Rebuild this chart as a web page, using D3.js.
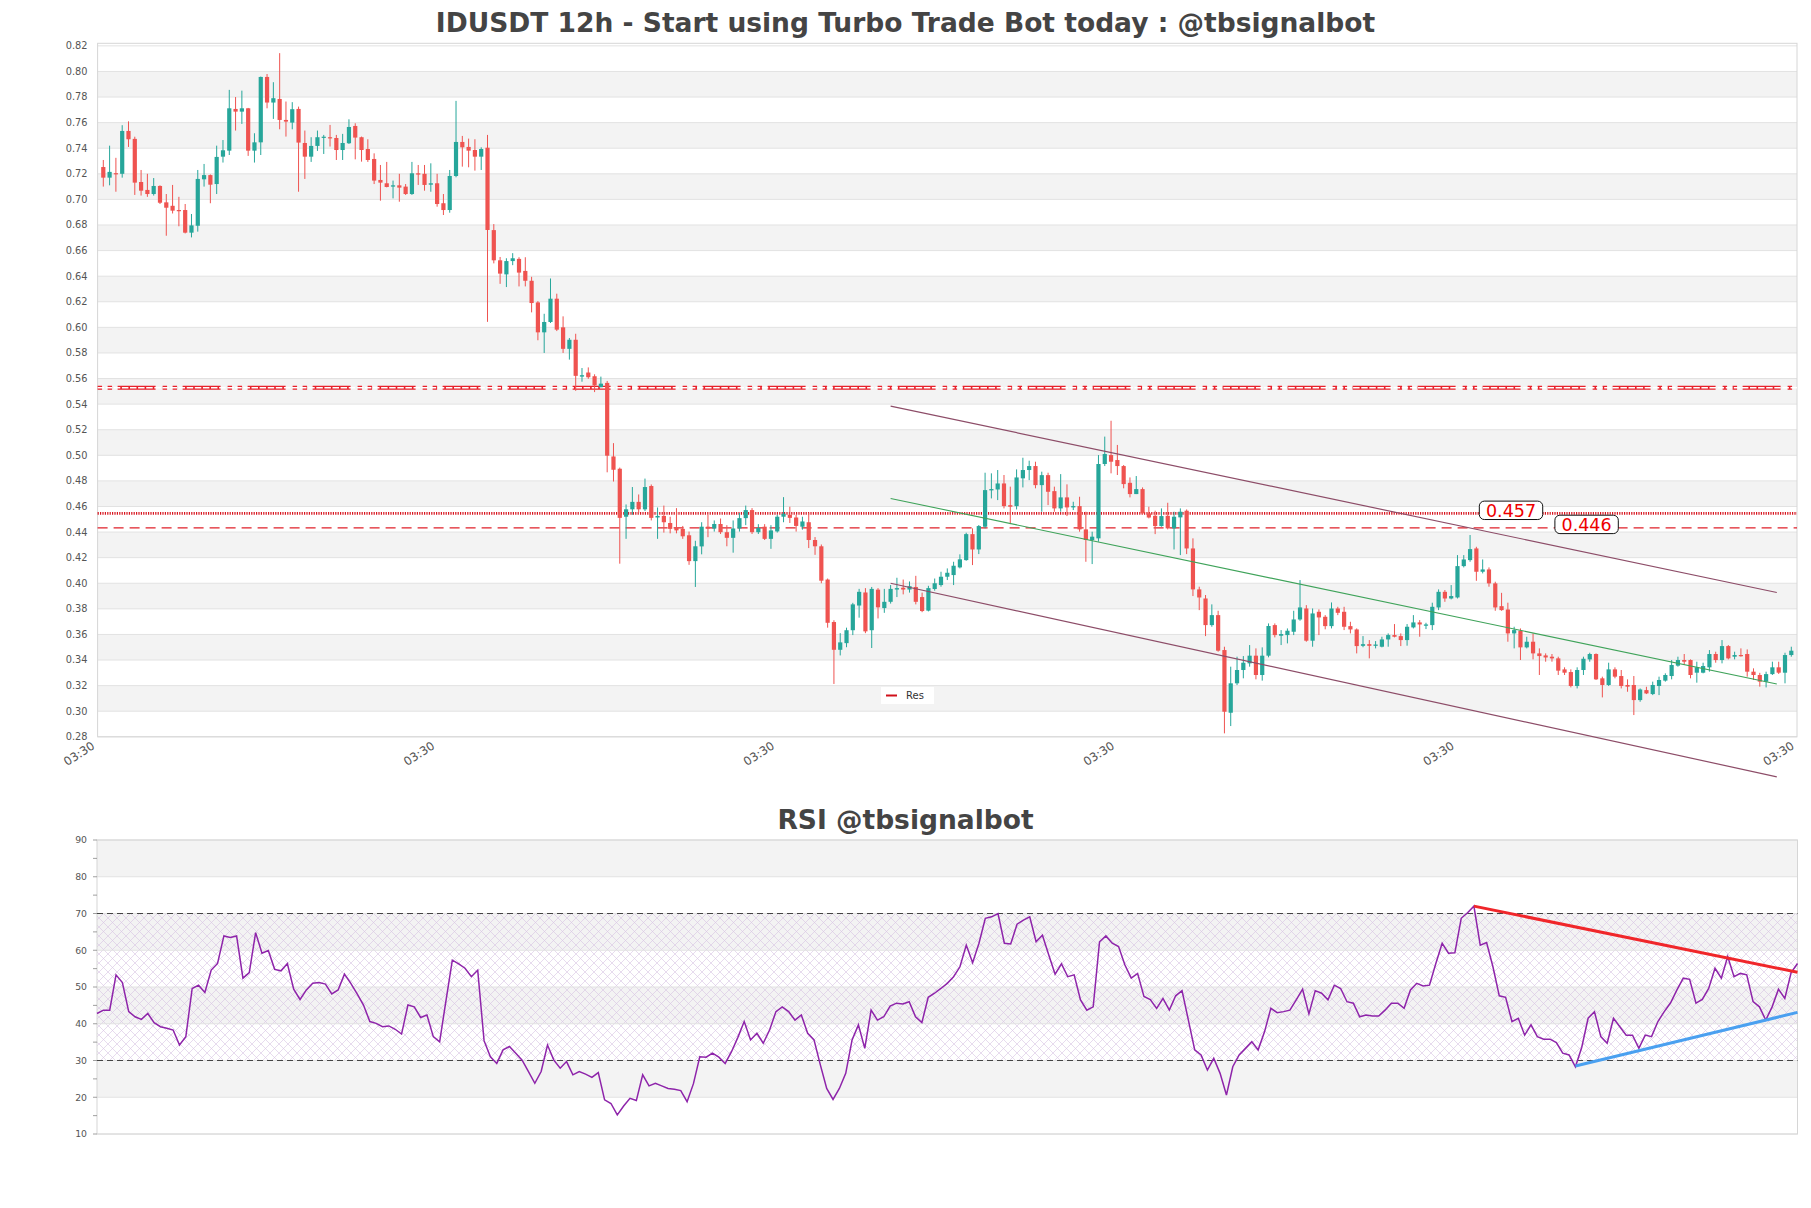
<!DOCTYPE html>
<html><head><meta charset="utf-8">
<script src="https://cdn.jsdelivr.net/npm/d3@7"></script>
<style>body{margin:0;background:#fff}svg{display:block}text{font-family:"DejaVu Sans",sans-serif}</style>
</head><body><svg id="c" width="1811" height="1208"></svg>
<script>
// ---------------- DATA ----------------
const open = [.7253,.717,.7205,.720,.7535,.7473,.7136,.7074,.7042,.7105,.6977,.695,.6917,.6917,.674,.6794,.7157,.719,.712,.7334,
.7381,.7707,.7686,.7712,.7381,.7446,.7957,.7757,.7785,.7621,.760,.7707,.7441,.7334,.7418,.7483,.7486,.748,.7386,.7439,
.7574,.7486,.7394,.7316,.7152,.7126,.710,.711,.710,.7042,.7204,.720,.7115,.7126,.697,.6917,.7183,.7449,.741,.7386,
.7334,.7404,.676,.6524,.6414,.6518,.6535,.6441,.6364,.6195,.5961,.6042,.6224,.600,.5832,.5903,.5615,.5647,.5618,.5532,
.5566,.4991,.4895,.452,.4578,.4636,.4578,.476,.4514,.4526,.4471,.4433,.4425,.4375,.4173,.4288,.4442,.4428,.4463,.4399,
.4355,.4428,.4509,.4572,.4399,.4442,.4347,.4405,.452,.4535,.4514,.4442,.4477,.4338,.4289,.4029,.3697,.348,.3532,.3633,
.3826,.3928,.3633,.395,.3806,.3855,.3951,.3965,.3951,.3971,.3892,.3786,.3955,.3986,.4051,.4064,.4124,.4181,.4384,.4264,
.4442,.4726,.4733,.478,.461,.4603,.482,.4885,.4916,.4767,.4845,.472,.4585,.4671,.4593,.4603,.4421,.4338,.4351,.4932,
.5002,.4963,.4916,.4785,.4697,.4736,.4546,.4527,.4447,.4527,.4429,.4515,.4567,.4272,.3952,.3881,.3673,.3751,.3478,.2988,
.3218,.3322,.3374,.3434,.3283,.3434,.3673,.359,.3595,.3621,.3717,.3803,.3551,.3777,.3738,.3665,.3803,.3777,.3665,.3639,
.3511,.3524,.3511,.3504,.3561,.3595,.3587,.3556,.3655,.3694,.3668,.3673,.3811,.3933,.3881,.3889,.4134,.4181,.4272,.409,
.4108,.3999,.3821,.3795,.3608,.3629,.3499,.3543,.3452,.3436,.3426,.3413,.3327,.3306,.3197,.3322,.3405,.3447,.3257,.3205,
.3327,.3275,.3205,.3205,.3087,.3165,.3134,.3197,.3239,.3275,.3356,.34,.34,.3301,.3301,.3343,.3447,.34,.3509,.3426,
.3439,.3447,.3309,.3283,.3231,.329,.3343,.3301,.3439];
const high = [.7308,.742,.7325,.758,.761,.749,.723,.720,.7167,.711,.7042,.7113,.702,.6964,.6886,.723,.7277,.7195,.742,.7464,
.7856,.780,.785,.7715,.7517,.796,.798,.7916,.8143,.7765,.776,.7725,.7538,.7486,.7538,.7504,.7582,.7504,.7512,.7626,
.7595,.7491,.747,.736,.7269,.7293,.7147,.720,.712,.7293,.7269,.7269,.7282,.720,.7042,.723,.777,.7496,.7475,.747,
.7407,.7504,.6807,.655,.654,.658,.6548,.6548,.6395,.6205,.6106,.6382,.6263,.6086,.5917,.595,.5682,.5687,.5633,.5615,
.5581,.5095,.4904,.4616,.4752,.4694,.4818,.4772,.4592,.4607,.452,.4587,.4448,.4404,.4332,.4477,.4535,.4491,.4506,.4454,
.4491,.4549,.4607,.4587,.4462,.4462,.4454,.4535,.4673,.4598,.4535,.452,.4549,.4361,.4303,.4037,.3711,.361,.3653,.3847,
.3956,.3962,.3971,.3962,.3956,.3986,.4043,.4029,.4014,.4058,.3927,.398,.4037,.409,.4116,.4168,.4226,.4395,.4429,.4455,
.4864,.4859,.4885,.4846,.4755,.489,.4981,.4958,.495,.4872,.4864,.4755,.4853,.4773,.4637,.4676,.4559,.4403,.5002,.5146,
.527,.5081,.4924,.4827,.4838,.4749,.4598,.4567,.4585,.4629,.4559,.4585,.4577,.4351,.3973,.3908,.3835,.3785,.3504,.3348,
.3426,.3431,.3517,.3491,.3499,.3686,.3686,.3634,.3647,.3785,.4025,.3829,.3803,.3796,.3751,.385,.3816,.3816,.3699,.3647,
.3587,.3556,.3548,.3582,.3608,.3681,.3608,.3681,.3751,.3712,.3691,.3848,.3952,.3947,.3986,.422,.422,.4377,.4285,.4186,
.4124,.4012,.3925,.3848,.366,.3647,.3582,.3608,.3491,.3452,.3447,.3426,.3343,.3327,.3343,.3426,.3457,.3452,.327,.3379,
.3343,.3322,.3249,.3275,.3178,.3191,.3231,.327,.3296,.34,.3426,.3447,.3405,.3387,.3379,.3478,.3465,.3556,.3517,.3465,
.3491,.3483,.3335,.33,.3309,.3387,.3387,.3457,.3504];
const low = [.710,.711,.706,.717,.741,.7035,.703,.702,.703,.6964,.6716,.689,.679,.6734,.6703,.6748,.710,.697,.7042,.7288,
.7347,.7538,.759,.734,.7288,.7347,.7712,.7629,.7548,.7491,.7548,.706,.716,.7293,.7379,.7355,.7413,.7308,.7308,.7433,
.7313,.7295,.7293,.712,.699,.7094,.7008,.6982,.7035,.7035,.7113,.7068,.706,.6943,.6878,.6896,.7173,.7256,.7251,.7225,
.723,.6043,.650,.634,.6315,.6486,.632,.632,.6117,.5899,.580,.6034,.5971,.580,.5748,.5504,.5575,.5598,.5494,.5532,
.4867,.4795,.4153,.4347,.4535,.4549,.4564,.4491,.4347,.4396,.439,.439,.4347,.4144,.3971,.4226,.436,.4404,.4385,.4289,
.4239,.4404,.4454,.4385,.4385,.4338,.4269,.4396,.4477,.4471,.4404,.4419,.4275,.4222,.40,.3653,.3213,.3436,.350,.3595,
.3731,.361,.3494,.3725,.3769,.3841,.3892,.3913,.3927,.3835,.3774,.378,.3942,.3973,.4025,.3986,.4116,.4176,.4142,.4228,
.4429,.4663,.465,.4585,.4462,.4577,.4749,.4806,.4742,.4559,.4611,.4559,.4559,.4525,.4572,.4403,.4168,.415,.4325,.4916,
.4859,.4846,.4742,.4671,.4697,.4541,.4507,.4384,.4442,.4421,.4264,.422,.4228,.39,.379,.3587,.366,.3465,.2827,.2884,
.3204,.3257,.3348,.3249,.3239,.3421,.3577,.3517,.353,.3595,.3707,.3543,.3504,.3595,.364,.3647,.3751,.3634,.3608,.3452,
.35,.3413,.3491,.3499,.3504,.3577,.3509,.3512,.3647,.3582,.3642,.3634,.379,.3855,.3874,.3881,.4124,.4168,.4019,.4077,
.3973,.3785,.3785,.3543,.3491,.34,.3491,.3405,.3283,.3387,.3387,.3283,.3283,.3186,.3178,.3283,.3387,.3244,.3108,.3197,
.3257,.3178,.3152,.297,.3074,.3134,.3126,.3126,.3231,.3249,.3348,.3361,.3257,.3223,.3296,.3309,.3379,.3374,.3405,.3405,
.3426,.327,.3244,.3192,.3186,.3283,.3291,.3218,.3426];
const close = [.717,.7215,.720,.7535,.747,.7131,.7068,.7042,.7105,.6974,.6935,.6912,.6912,.674,.6797,.716,.719,.7115,.7332,.7384,
.7712,.7686,.7712,.7381,.7446,.7957,.7757,.7791,.7621,.7608,.7705,.7444,.7334,.7418,.7486,.749,.7478,.7386,.7441,.7566,
.7483,.7386,.7308,.7147,.7131,.7097,.711,.7092,.7042,.7204,.7194,.7113,.7126,.6964,.6917,.7183,.7449,.7407,.7381,.7334,
.7394,.6761,.6524,.642,.6518,.654,.6428,.6364,.619,.5961,.6042,.6224,.5982,.5832,.5903,.5621,.5626,.561,.5546,.556,
.4997,.4887,.4511,.4578,.4636,.4578,.4752,.4511,.4526,.4477,.4425,.4413,.4367,.4173,.4289,.4442,.4428,.4463,.4399,.4355,
.4428,.4509,.4572,.4399,.4433,.4347,.4413,.452,.4543,.4511,.4448,.4483,.4338,.4289,.402,.3691,.348,.3538,.3633,.3835,
.3933,.3624,.3956,.3812,.3855,.3956,.3962,.3951,.3977,.3855,.3783,.3962,.40,.4051,.4082,.4137,.4187,.4384,.4264,.4447,
.4728,.4736,.478,.4603,.4598,.4827,.4885,.4916,.4767,.4845,.4715,.4585,.4671,.4593,.4603,.4421,.4338,.4364,.4932,.501,
.495,.4916,.4775,.4697,.4736,.4546,.4514,.4447,.4525,.4429,.452,.4559,.4272,.3952,.3889,.3673,.3751,.3473,.2996,.3218,
.3322,.3379,.3434,.3283,.3434,.3666,.3595,.3603,.3629,.3717,.3811,.3551,.3764,.3733,.3665,.3803,.3769,.366,.3639,.3509,
.3524,.3511,.3521,.3561,.3595,.3582,.3556,.366,.3694,.3678,.3678,.3816,.3933,.3881,.39,.4134,.4186,.4267,.409,.4108,
.3999,.3811,.379,.3608,.3634,.3499,.3543,.3452,.3431,.342,.3413,.3317,.3301,.3197,.3322,.341,.3447,.3249,.3205,.3327,
.327,.3197,.3192,.3087,.317,.3139,.3205,.3244,.3283,.3361,.34,.3387,.3283,.3343,.3353,.3447,.34,.3509,.3413,.3439,
.3431,.3309,.3283,.3231,.329,.3343,.3301,.3439,.3473];
const rsi = [42.8,43.7,43.7,53.3,51.2,43.3,41.9,41.2,42.8,40.3,39.2,38.8,38.3,34.2,36.5,49.6,50.5,48.5,54.6,56.4,
63.9,63.5,63.9,52.4,53.9,64.8,59.2,59.9,54.8,54.4,56.4,49.4,46.6,49.2,51,51.2,50.8,48.1,49.2,53.5,
51,48.1,45.1,40.6,40.1,39.2,39.4,38.5,37.2,45.1,44.6,41.7,42.4,36.5,35.1,46.3,57.3,56.3,55.1,52.8,
54.6,35.4,31,29.2,32.9,33.8,32,30.1,27,23.8,27,34.2,30.1,27.9,29.7,26.1,27,26.3,25.4,26.7,
19.3,18.3,15.2,17.6,19.7,19.1,26.1,23.1,23.8,23.1,22.4,22.2,21.8,18.8,23.7,31,30.9,32,30.9,29.2,
32.4,36.3,40.6,35.6,37.4,34.7,38.3,43.3,44.6,43.3,41,42.4,37.4,35.6,28.8,22.4,19.4,22.4,26.5,35.6,
39.7,33.3,43.7,41,41.9,44.8,45.6,45.4,46,
41.9,40.3,47.2,48.3,49.6,51,52.8,55.5,61.4,56.6,61.9,68.7,69.1,70,61.9,61.7,67.1,68.2,69.1,62.3,
64.1,58.7,53.5,56.3,52.8,53.3,46.5,43.7,44.6,62.3,63.9,61.9,61,56,52.4,53.7,47.4,46.6,44.2,46.9,
43.7,47.6,49,41,32.9,31.5,27.4,30.6,26.5,20.6,28.3,31.5,33.3,35.1,32.9,37.8,44.2,43,43.3,43.7,
46.5,49.4,42.7,49,48.3,46.5,50.5,49.6,46,45.6,41.9,42.4,42.1,42.1,43.7,45.6,45.6,44.2,49.2,51,
50.3,50.5,56.4,61.9,59.2,59.3,68.7,70.2,72,61.4,62.1,55.5,47.6,47.2,40.6,41.5,36.9,39.7,36.5,35.8,
35.8,34.9,32,31.5,28.3,33.6,41.5,43.3,36.5,34.7,41.5,39.2,36.9,36.9,33.3,36.9,36.5,40.6,43.3,45.7,
49.2,52.4,52.1,45.6,46.6,49.6,55.1,52.4,58.3,52.8,53.7,53.3,46,44.6,41,44.6,49.4,46.9,53.9,56.4];
const priceTicks = [0.28,0.30,0.32,0.34,0.36,0.38,0.40,0.42,0.44,0.46,0.48,0.50,0.52,0.54,0.56,0.58,0.60,0.62,0.64,0.66,0.68,0.70,0.72,0.74,0.76,0.78,0.80,0.82];
const xTickLabels = ["03:30","03:30","03:30","03:30","03:30","03:30"];
const rsiTicks = [10,20,30,40,50,60,70,80,90];
const levelValues = [0.5528, 0.4546, 0.4433];
const levelLabelValues = [0.457, 0.446];
const levelLabelTexts = ["0.457", "0.446"];
const channelUpper = [[125, 0.5384], [265.7, 0.3928]];
const channelLower = [[125, 0.4000], [265.7, 0.2487]];
const channelMid   = [[125, 0.4663], [265.7, 0.3212]];
const rsiResLine = [[217, 72.0], [268, 54.0]];
const rsiSupLine = [[233, 28.5], [268, 43.1]];

// ---------------- LAYOUT ----------------
const svg = d3.select("#c");
const P = {l:97.6, r:1797, t:43.3, b:736.8};
const R = {l:97, r:1797.5, t:840, b:1134};
const GREEN = "#26a69a", RED = "#ef5350", GRID = "#e2e2e2", BAND = "#f3f3f3";

const x = d3.scaleLinear().domain([-0.905, open.length - 1 + 0.905]).range([P.l, P.r]);
const y = d3.scaleLinear().domain([0.28, 0.822]).range([P.b, P.t]);

const defs = svg.append("defs");
const pat = defs.append("pattern").attr("id","hatch").attr("width",9).attr("height",9).attr("patternUnits","userSpaceOnUse");
pat.append("path").attr("d","M0,0L9,9M9,0L0,9").attr("stroke","#d6c3e3").attr("stroke-width",0.6).attr("fill","none");

// ---------- MAIN PLOT ----------
const gMain = svg.append("g");
const bandLows = priceTicks.slice(0,-1).filter(v => Math.round(v*100) % 4 === 2);
gMain.selectAll("rect.band").data(bandLows).join("rect")
  .attr("x", P.l).attr("width", P.r - P.l)
  .attr("y", d => y(d + 0.02)).attr("height", d => y(d) - y(d + 0.02))
  .attr("fill", BAND);
gMain.selectAll("line.grid").data(priceTicks).join("line")
  .attr("x1", P.l).attr("x2", P.r).attr("y1", d => y(d)).attr("y2", d => y(d))
  .attr("stroke", GRID).attr("stroke-width", 1);
gMain.append("rect").attr("x",P.l).attr("y",P.t).attr("width",P.r-P.l).attr("height",P.b-P.t)
  .attr("fill","none").attr("stroke","#d6d6d6").attr("stroke-width",1);

gMain.selectAll("text.yl").data(priceTicks).join("text")
  .attr("x", P.l - 10).attr("y", d => y(d)).attr("dy","0.35em")
  .attr("text-anchor","end").attr("font-size", 9.8).attr("fill","#555")
  .text(d => d3.format(".2f")(d));

const span = x.domain()[1] - x.domain()[0];
const xTickPos = xTickLabels.map((d,i) => x.domain()[0] + i * span / (xTickLabels.length - 1));
gMain.selectAll("text.xl").data(xTickLabels).join("text")
  .attr("transform", (d,i) => `translate(${x(xTickPos[i]) - 2},${P.b + 11}) rotate(-33)`)
  .attr("text-anchor","end").attr("font-size", 11.8).attr("fill","#555")
  .text(d => d);

// level lines
const gLv = svg.append("g");
const yd = y(levelValues[0]);
gLv.append("line").attr("x1",P.l).attr("x2",P.r).attr("y1",yd).attr("y2",yd)
  .attr("stroke","#e8202a").attr("stroke-width",3.8).attr("stroke-dasharray","4.5,5.5,4.5,5.5,38,7");
gLv.append("line").attr("x1",P.l).attr("x2",P.r).attr("y1",yd).attr("y2",yd)
  .attr("stroke","#fff").attr("stroke-width",1.3).attr("stroke-dasharray","6.5,1.6");
gLv.append("line").attr("x1",P.l).attr("x2",P.r).attr("y1",y(levelValues[1])).attr("y2",y(levelValues[1]))
  .attr("stroke","#d8141e").attr("stroke-width",2.6).attr("stroke-dasharray","1.2,1.2");
gLv.append("line").attr("x1",P.l).attr("x2",P.r).attr("y1",y(levelValues[2])).attr("y2",y(levelValues[2]))
  .attr("stroke","#e0202a").attr("stroke-width",1.4).attr("stroke-dasharray","10,6");

// candles
const idx = d3.range(open.length);
const gC = svg.append("g");
gC.selectAll("line.wick").data(idx).join("line")
  .attr("x1", i => x(i)).attr("x2", i => x(i))
  .attr("y1", i => y(high[i])).attr("y2", i => y(low[i]))
  .attr("stroke", i => close[i] >= open[i] ? GREEN : RED).attr("stroke-width", 1);
gC.selectAll("rect.body").data(idx).join("rect")
  .attr("x", i => x(i) - 2.1).attr("width", 4.2)
  .attr("y", i => y(Math.max(open[i], close[i])))
  .attr("height", i => Math.max(1.2, Math.abs(y(open[i]) - y(close[i]))))
  .attr("fill", i => close[i] >= open[i] ? GREEN : RED);

// channel lines
const ln = d3.line().x(d => x(d[0])).y(d => y(d[1]));
svg.append("path").attr("d", ln(channelUpper)).attr("stroke","#8d4d68").attr("stroke-width",1.2).attr("fill","none");
svg.append("path").attr("d", ln(channelLower)).attr("stroke","#8d4d68").attr("stroke-width",1.2).attr("fill","none");
svg.append("path").attr("d", ln(channelMid)).attr("stroke","#3fa35a").attr("stroke-width",1.1).attr("fill","none");

// level labels
const labelIdx = [223.5, 235.5];
levelLabelValues.forEach((v,k) => {
  const cx = x(labelIdx[k]), cy = y(v);
  svg.append("rect").attr("x", cx - 31.7).attr("y", cy - 9.2).attr("width", 63.4).attr("height", 18.4)
    .attr("rx", 5).attr("fill","#fff").attr("stroke","#111").attr("stroke-width",1);
  svg.append("text").attr("x", cx).attr("y", cy).attr("dy","0.36em").attr("text-anchor","middle")
    .attr("font-size", 17.5).attr("fill","#ee0000").text(levelLabelTexts[k]);
});

// legend
const lg = svg.append("g");
lg.append("rect").attr("x",881).attr("y",687).attr("width",53).attr("height",17).attr("fill","#fff");
lg.append("line").attr("x1",886).attr("x2",897).attr("y1",695.5).attr("y2",695.5).attr("stroke","#d0101a").attr("stroke-width",2);
lg.append("text").attr("x",906).attr("y",695.5).attr("dy","0.35em").attr("font-size",10).attr("fill","#333").text("Res");

// title
svg.append("text").attr("x", 905.5).attr("y", 32).attr("text-anchor","middle")
  .attr("font-size", 26.5).attr("font-weight","bold").attr("fill","#444")
  .text("IDUSDT 12h - Start using Turbo Trade Bot today : @tbsignalbot");

// ---------- RSI ----------
const rx = d3.scaleLinear().domain([0, rsi.length - 1]).range([R.l, R.r]);
const ry = d3.scaleLinear().domain([10, 90]).range([R.b, R.t]);
const gR = svg.append("g");
const rBand = [20, 40, 60, 80];
gR.selectAll("rect.rb").data(rBand).join("rect")
  .attr("x", R.l).attr("width", R.r - R.l).attr("y", d => ry(d + 10)).attr("height", d => ry(d) - ry(d + 10))
  .attr("fill", BAND);
gR.append("rect").attr("x", R.l).attr("width", R.r - R.l).attr("y", ry(70)).attr("height", ry(30) - ry(70))
  .attr("fill", "url(#hatch)");
gR.selectAll("line.rg").data(rsiTicks).join("line")
  .attr("x1", R.l).attr("x2", R.r).attr("y1", d => ry(d)).attr("y2", d => ry(d))
  .attr("stroke", GRID).attr("stroke-width", 1);
gR.append("rect").attr("x",R.l).attr("y",R.t).attr("width",R.r-R.l).attr("height",R.b-R.t)
  .attr("fill","none").attr("stroke","#d6d6d6").attr("stroke-width",1);
[70, 30].forEach(v => gR.append("line").attr("x1",R.l).attr("x2",R.r).attr("y1",ry(v)).attr("y2",ry(v))
  .attr("stroke","#444").attr("stroke-width",1.2).attr("stroke-dasharray","6,4"));
gR.selectAll("line.mt").data(d3.range(10, 91, 5)).join("line")
  .attr("x1", R.l - 4).attr("x2", R.l).attr("y1", d => ry(d)).attr("y2", d => ry(d))
  .attr("stroke", "#888").attr("stroke-width", 0.8);
gR.selectAll("text.rl").data(rsiTicks).join("text")
  .attr("x", R.l - 10).attr("y", d => ry(d)).attr("dy","0.35em")
  .attr("text-anchor","end").attr("font-size", 9.3).attr("fill","#555").text(d => d);
gR.append("path").datum(rsi).attr("d", d3.line().x((d,i) => rx(i)).y(d => ry(d)))
  .attr("fill","none").attr("stroke","#8e24aa").attr("stroke-width",1.5);
const rln = d3.line().x(d => rx(d[0])).y(d => ry(d[1]));
gR.append("path").attr("d", rln(rsiResLine)).attr("stroke","#f0262a").attr("stroke-width",3).attr("fill","none");
gR.append("path").attr("d", rln(rsiSupLine)).attr("stroke","#4aa0f0").attr("stroke-width",3).attr("fill","none");
svg.append("text").attr("x", 905.5).attr("y", 829).attr("text-anchor","middle")
  .attr("font-size", 26.5).attr("font-weight","bold").attr("fill","#444").text("RSI @tbsignalbot");
</script></body></html>
